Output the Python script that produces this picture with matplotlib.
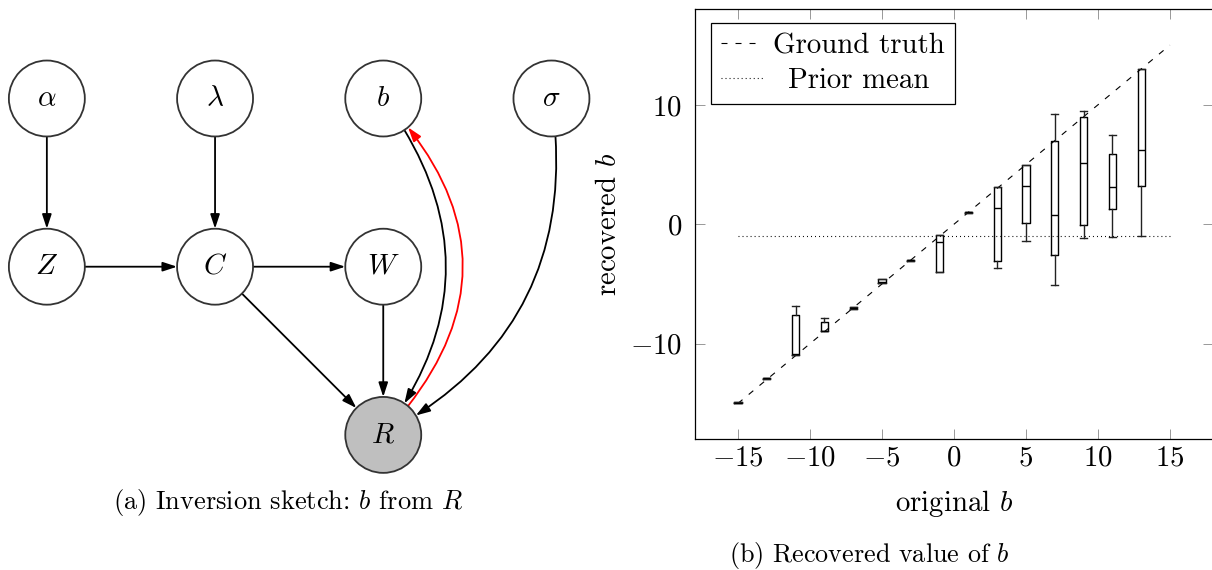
import matplotlib
matplotlib.use("Agg")
import matplotlib.pyplot as plt
from matplotlib.patches import Circle, FancyArrowPatch, ArrowStyle
import numpy as np

plt.rcParams['font.family'] = ['cmr10', 'DejaVu Serif']
plt.rcParams['mathtext.fontset'] = 'cm'
plt.rcParams['axes.formatter.use_mathtext'] = True
plt.rcParams['lines.scale_dashes'] = False

# ---------------- data ----------------
# graphical model (grid column, grid row)
node_names = ['alpha', 'lambda', 'b', 'sigma', 'Z', 'C', 'W', 'R']
node_labels = [r'$\alpha$', r'$\lambda$', r'$b$', r'$\sigma$', r'$Z$', r'$C$', r'$W$', r'$R$']
node_cols = [0, 1, 2, 3, 0, 1, 2, 2]
node_rows = [0, 0, 0, 0, 1, 1, 1, 2]
node_observed = [False, False, False, False, False, False, False, True]
edge_src = ['alpha', 'lambda', 'Z', 'C', 'C', 'W', 'b', 'sigma', 'R']
edge_dst = ['Z', 'C', 'C', 'W', 'R', 'R', 'R', 'R', 'b']
edge_rad = [0.0, 0.0, 0.0, 0.0, 0.0, 0.0, -0.37, -0.35, 0.47]
edge_color = ['black'] * 8 + ['red']

# box plot: original b vs recovered b
orig_b = [-15, -13, -11, -9, -7, -5, -3, -1, 1, 3, 5, 7, 9, 11, 13]
whis_lo = [-15.0, -12.95, -10.95, -8.95, -7.05, -4.95, -3.05, -4.0, 0.95, -3.65, -1.4, -5.05, -1.15, -1.05, -0.95]
q1 = [-15.0, -12.95, -10.95, -8.95, -7.05, -4.95, -3.05, -4.0, 0.95, -3.1, 0.1, -2.6, -0.1, 1.25, 3.2]
median = [-14.95, -12.9, -10.9, -8.9, -7.0, -4.85, -3.0, -1.45, 1.0, 1.4, 3.2, 0.8, 5.15, 3.1, 6.2]
q3 = [-14.9, -12.85, -7.6, -8.15, -6.95, -4.55, -2.95, -0.92, 1.05, 3.1, 5.0, 7.0, 9.0, 5.9, 13.0]
whis_hi = [-14.9, -12.85, -6.85, -7.85, -6.95, -4.55, -2.95, -0.92, 1.05, 3.1, 5.0, 9.2, 9.5, 7.5, 13.0]
truth_x = [-15, 15]
prior_mean = -1.0
xticks = [-15, -10, -5, 0, 5, 10, 15]
yticks = [-10, 0, 10]

FS = 20.8

# ---------------- figure ----------------
W, H = 1212, 570
fig = plt.figure(figsize=(W / 100, H / 100), dpi=100)

# ---- left: graphical model ----
axL = fig.add_axes([0, 0, 606 / W, 1])
axL.set_xlim(-46.7 / 168.3, (606 - 46.7) / 168.3)
axL.set_ylim((570 - 98.5) / 168.2, -98.5 / 168.2)
axL.set_aspect('equal')
axL.axis('off')

radius = 38 / 168.3
circles = {}
for name, lab, c, r, obs in zip(node_names, node_labels, node_cols, node_rows, node_observed):
    circ = Circle((c, r), radius, facecolor='#bfbfbf' if obs else 'white',
                  edgecolor='#333333', lw=1.3, zorder=3)
    axL.add_patch(circ)
    circles[name] = circ
    axL.text(c, r, lab, ha='center', va='center', fontsize=21, zorder=4)

pos = {n: (c, r) for n, c, r in zip(node_names, node_cols, node_rows)}
astyle = ArrowStyle('-|>', head_length=8.5, head_width=2.8)
for s, d, rad, col in zip(edge_src, edge_dst, edge_rad, edge_color):
    arr = FancyArrowPatch(pos[s], pos[d], arrowstyle=astyle,
                          connectionstyle=f'arc3,rad={rad}',
                          patchA=circles[s], patchB=circles[d],
                          shrinkA=0, shrinkB=0.5, color=col, lw=1.3, zorder=2)
    axL.add_patch(arr)

fig.text(288 / W, 1 - 503 / H, r'(a) Inversion sketch: $b$ from $R$',
         ha='center', va='center', fontsize=19)

# ---- right: box plot ----
left_px, right_px, top_px, bot_px = 694.7, 1213.1, 9.3, 439.3
ax = fig.add_axes([left_px / W, 1 - bot_px / H, (right_px - left_px) / W, (bot_px - top_px) / H])

stats = []
for p, lo, a, m, b_, hi in zip(orig_b, whis_lo, q1, median, q3, whis_hi):
    stats.append(dict(whislo=lo, q1=a, med=m, q3=b_, whishi=hi, fliers=[]))
ax.bxp(stats, positions=orig_b, widths=0.5, capwidths=0.5, showfliers=False,
       manage_ticks=False,
       boxprops=dict(color='black', lw=1.0),
       medianprops=dict(color='black', lw=1.0),
       whiskerprops=dict(color='#222222', lw=1.0),
       capprops=dict(color='#222222', lw=1.0))

ax.plot(truth_x, truth_x, color='black', lw=0.8, dashes=(4.3, 5.8), label='Ground truth', zorder=1)
ax.plot(truth_x, [prior_mean, prior_mean], color='black', lw=0.8, dashes=(0.7, 2.2), label='Prior mean', zorder=1)

ax.set_xlim(-18, 18)
ax.set_ylim(-18, 18)
ax.set_xticks(xticks)
ax.set_yticks(yticks)
ax.tick_params(direction='in', length=7.2, width=0.6, color='#888888',
               top=True, right=True, labelsize=FS)
ax.tick_params(axis='x', pad=4)
ax.tick_params(axis='y', pad=9)
for sp in ax.spines.values():
    sp.set_linewidth(0.9)

ax.set_xlabel(r'original $b$', fontsize=FS, labelpad=12)
ax.set_ylabel(r'recovered $b$', fontsize=FS, labelpad=6)

leg = ax.legend(loc='upper left', bbox_to_anchor=(0.0314, 0.9688), borderaxespad=0,
                fontsize=FS, frameon=True, fancybox=False, framealpha=1,
                edgecolor='black', handlelength=1.45, handletextpad=0.35,
                borderpad=0.35, labelspacing=0.3)
leg.get_frame().set_linewidth(0.9)

fig.canvas.draw()
t0, t1 = leg.get_texts()
w0 = t0.get_window_extent().width
w1 = t1.get_window_extent().width
t1.set_x((w0 - w1) / 2)

fig.text(869 / W, 1 - 562 / H, r'(b) Recovered value of $b$',
         ha='center', va='baseline', fontsize=18.8)

fig.savefig('out.png', dpi=100)
